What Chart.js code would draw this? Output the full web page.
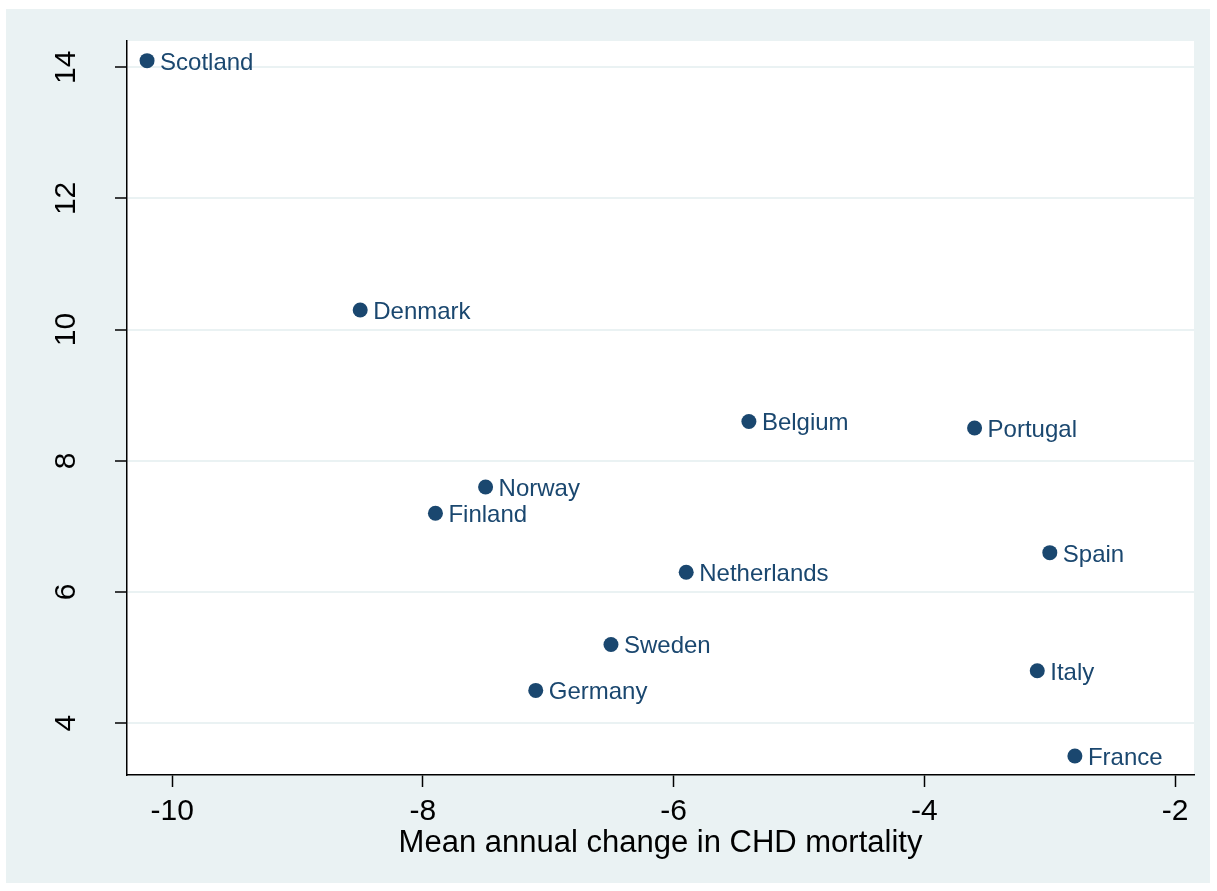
<!DOCTYPE html>
<html>
<head>
<meta charset="utf-8">
<script src="https://cdn.jsdelivr.net/npm/chart.js@4/dist/chart.umd.min.js"></script>
<style>
  html, body { margin: 0; padding: 0; background: #fff; }
  canvas { display: block; }
</style>
</head>
<body>
<canvas id="chart-chd" width="1217" height="891"></canvas>
<script>
const countries = ['Scotland', 'Denmark', 'Belgium', 'Portugal', 'Norway', 'Finland',
  'Spain', 'Netherlands', 'Sweden', 'Germany', 'Italy', 'France'];
const chdChange = [-10.2, -8.5, -5.4, -3.6, -7.5, -7.9, -3.0, -5.9, -6.5, -7.1, -3.1, -2.8];
const yValues = [14.1, 10.3, 8.6, 8.5, 7.6, 7.2, 6.6, 6.3, 5.2, 4.5, 4.8, 3.5];
const xTicks = [-10, -8, -6, -4, -2];
const yTicks = [4, 6, 8, 10, 12, 14];

const navy = '#1a476f';
const bg = '#eaf2f3';
const font = 'Liberation Sans, Arial, Helvetica, sans-serif';

const points = chdChange.map((x, i) => ({ x, y: yValues[i] }));

const backdrop = {
  id: 'backdrop',
  beforeDraw(chart) {
    const { ctx, chartArea } = chart;
    ctx.save();
    ctx.fillStyle = bg;
    ctx.fillRect(6, 9, 1204, 874);
    ctx.fillStyle = '#fff';
    ctx.fillRect(chartArea.left, chartArea.top, chartArea.right - chartArea.left, chartArea.bottom - chartArea.top);
    ctx.restore();
  }
};

const pointLabels = {
  id: 'pointLabels',
  afterDatasetsDraw(chart) {
    const { ctx } = chart;
    const meta = chart.getDatasetMeta(0);
    ctx.save();
    ctx.font = `24px ${font}`;
    ctx.fillStyle = navy;
    ctx.textAlign = 'left';
    ctx.textBaseline = 'alphabetic';
    meta.data.forEach((pt, i) => {
      ctx.fillText(countries[i], pt.x + 13, pt.y + 9);
    });
    ctx.restore();
  }
};

const chdChart = new Chart(document.getElementById('chart-chd'), {
  type: 'scatter',
  data: {
    datasets: [{
      data: points,
      backgroundColor: navy,
      borderColor: navy,
      borderWidth: 0,
      pointRadius: 7.5,
      pointHoverRadius: 7.5
    }]
  },
  options: {
    responsive: false,
    animation: false,
    layout: { padding: { left: 0, top: 41, right: 23, bottom: 0 } },
    plugins: { legend: { display: false }, tooltip: { enabled: false } },
    scales: {
      x: {
        type: 'linear',
        min: -10.36,
        max: -1.85,
        afterBuildTicks: (s) => { s.ticks = xTicks.map(v => ({ value: v })); },
        afterFit: (s) => { s.height = 116; s.paddingLeft = 0; s.paddingRight = 0; },
        border: { display: true, color: '#000', width: 1.5 },
        grid: { drawOnChartArea: false, drawTicks: true, tickLength: 12, tickColor: '#000', tickWidth: 1.5 },
        ticks: { color: '#000', font: { family: font, size: 30 }, padding: 7, maxRotation: 0 },
        title: {
          display: true,
          text: 'Mean annual change in CHD mortality',
          color: '#000',
          font: { family: font, size: 31 },
          padding: { top: 0, bottom: 29 }
        }
      },
      y: {
        type: 'linear',
        min: 3.21,
        max: 14.4,
        afterBuildTicks: (s) => { s.ticks = yTicks.map(v => ({ value: v })); },
        afterFit: (s) => { s.width = 127; s.paddingTop = 0; s.paddingBottom = 0; },
        border: { display: true, color: '#000', width: 1.5 },
        grid: { color: bg, lineWidth: 2, drawTicks: true, tickLength: 12, tickColor: '#000', tickWidth: 1.5 },
        ticks: { color: '#000', font: { family: font, size: 30 }, padding: 32, minRotation: 90, maxRotation: 90, crossAlign: 'center' }
      }
    }
  },
  plugins: [backdrop, pointLabels]
});
</script>
</body>
</html>
